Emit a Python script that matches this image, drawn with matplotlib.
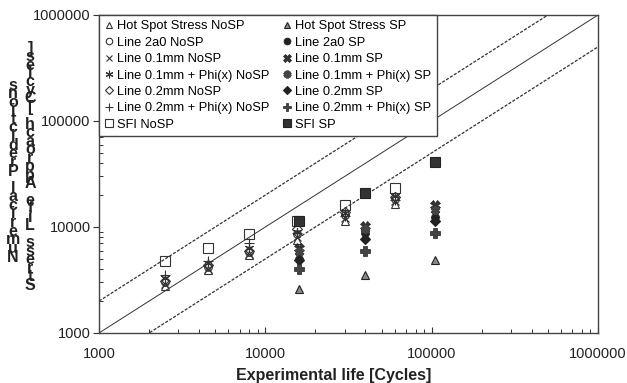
import matplotlib
matplotlib.use('Agg')
import matplotlib.pyplot as plt
from matplotlib.ticker import FixedLocator, FixedFormatter, LogLocator, NullFormatter

plt.rcParams['font.family'] = ['Liberation Sans', 'DejaVu Sans']

# experimental lives (cycles)
x_nosp = [2500, 4500, 8000, 15500, 30000, 60000]
x_sp = [16000, 40000, 105000]

# numerical predictions, no support plate
hss_nosp = [2800, 3900, 5400, 7600, 11500, 16500]
l2a0_nosp = [3000, 4200, 5800, 8500, 13000, 18500]
l01_nosp = [2900, 4000, 5600, 8000, 12200, 17500]
l01phi_nosp = [3300, 4600, 6300, 9000, 13500, 19500]
l02_nosp = [3100, 4400, 6000, 9500, 14000, 19000]
l02phi_nosp = [3500, 4800, 7000, 8800, 12800, 18000]
sfi_nosp = [4800, 6300, 8500, 11500, 16200, 23300]

# numerical predictions, with support plate
hss_sp = [2600, 3500, 4900]
l2a0_sp = [5000, 8800, 12500]
l01_sp = [6300, 10200, 16300]
l01phi_sp = [5800, 9500, 14500]
l02_sp = [4900, 7700, 11500]
l02phi_sp = [4000, 5900, 8700]
sfi_sp = [11300, 21000, 41000]

ref_x = [1e3, 1e6]
ticks = [1000, 10000, 100000, 1000000]
tick_labels = ['1000', '10000', '100000', '1000000']

ylabel_1 = 'Numerical Predictions'
ylabel_2 = 'Stress Life Approach [Cycles]'

fig = plt.figure(figsize=(6.27, 3.83), dpi=100)
ax = fig.add_axes([99 / 627, 1 - 333 / 383, 499 / 627, 318 / 383])

ax.plot(ref_x, ref_x, color='#333333', lw=0.7, zorder=1)
ax.plot(ref_x, [v * 2 for v in ref_x], color='#333333', lw=0.9,
        dashes=(2.5, 1.2), zorder=1)
ax.plot(ref_x, [v / 2 for v in ref_x], color='#333333', lw=0.9,
        dashes=(2.5, 1.2), zorder=1)

open_kw = dict(ls='none', mfc='none', mec='#333333', mew=0.8)
nosp = [
    (hss_nosp, '^', 5.5, 'Hot Spot Stress NoSP'),
    (l2a0_nosp, 'o', 5.5, 'Line 2a0 NoSP'),
    (l01_nosp, 'x', 5.5, 'Line 0.1mm NoSP'),
    (l01phi_nosp, (6, 2, 0), 6.5, 'Line 0.1mm + Phi(x) NoSP'),
    (l02_nosp, 'D', 5, 'Line 0.2mm NoSP'),
    (l02phi_nosp, '+', 7, 'Line 0.2mm + Phi(x) NoSP'),
    (sfi_nosp, 's', 6.5, 'SFI NoSP'),
]
handles = []
for ys, m, ms, lab in nosp:
    h, = ax.plot(x_nosp, ys, marker=m, ms=ms, label=lab, **open_kw)
    handles.append(h)

sp = [
    (hss_sp, '^', 5.5, '#8a8a8a', 0.8, 'Hot Spot Stress SP'),
    (l2a0_sp, 'o', 5.5, '#222222', 0.8, 'Line 2a0 SP'),
    (l01_sp, 'X', 6.5, '#333333', 0.5, 'Line 0.1mm SP'),
    (l01phi_sp, (6, 2, 0), 6.5, '#444444', 2.2, 'Line 0.1mm + Phi(x) SP'),
    (l02_sp, 'D', 5, '#222222', 0.8, 'Line 0.2mm SP'),
    (l02phi_sp, 'P', 6.5, '#444444', 0.5, 'Line 0.2mm + Phi(x) SP'),
    (sfi_sp, 's', 6.5, '#333333', 0.8, 'SFI SP'),
]
for ys, m, ms, c, mew, lab in sp:
    h, = ax.plot(x_sp, ys, ls='none', marker=m, ms=ms, mfc=c,
                 mec='#222222' if m != (6, 2, 0) else c, mew=mew, label=lab)
    handles.append(h)

ax.set_xscale('log')
ax.set_yscale('log')
ax.set_xlim(1e3, 1e6)
ax.set_ylim(1e3, 1e6)

for axis in (ax.xaxis, ax.yaxis):
    axis.set_major_locator(FixedLocator(ticks))
    axis.set_major_formatter(FixedFormatter(tick_labels))
    axis.set_minor_locator(LogLocator(base=10, subs=range(2, 10)))
    axis.set_minor_formatter(NullFormatter())

ax.tick_params(axis='x', which='major', direction='in', length=4,
               width=0.8, colors='#333333', labelsize=10.5, pad=10,
               labelcolor='#222222')
ax.tick_params(axis='x', which='minor', direction='in', length=3,
               width=0.7, colors='#333333')
ax.tick_params(axis='y', which='major', direction='out', length=4,
               width=0.8, colors='#333333', labelsize=10.5, pad=2,
               labelcolor='#222222')
ax.tick_params(axis='y', which='minor', direction='in', length=3,
               width=0.7, colors='#333333')

for s in ax.spines.values():
    s.set_color('#444444')
    s.set_linewidth(1.0)

ax.set_xlabel('Experimental life [Cycles]', fontsize=11.5, fontweight='bold',
              color='#222222')
ax.xaxis.set_label_coords(0.47, -0.11)

leg = ax.legend(handles=handles, ncol=2, loc='upper left',
                bbox_to_anchor=(0, 1), borderaxespad=0, fontsize=9.3,
                frameon=True, fancybox=False, handlelength=0.7,
                handletextpad=0.3, columnspacing=1.0, labelspacing=0.34,
                borderpad=0.4, numpoints=1, markerscale=0.85)
leg.get_frame().set_edgecolor('#444444')
leg.get_frame().set_linewidth(1.0)
leg.get_frame().set_alpha(1)

# the y label appears as upright letters stacked bottom to top
for text, xc, y0, step in [(ylabel_1, 13, 257, 8.6), (ylabel_2, 30, 285, 8.46)]:
    for i, ch in enumerate(text):
        if ch == ' ':
            continue
        fig.text(xc / 627, 1 - (y0 - i * step) / 383, ch, fontsize=11.5,
                 fontweight='bold', color='#222222', ha='center', va='center')

fig.savefig('out.png', dpi=100)
